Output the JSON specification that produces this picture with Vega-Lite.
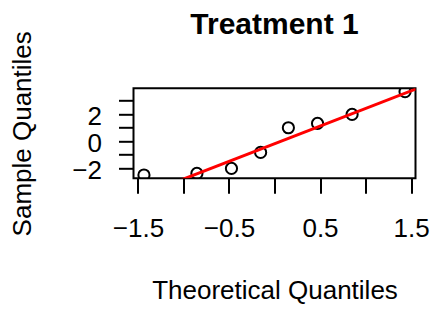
{
  "$schema": "https://vega.github.io/schema/vega-lite/v6.json",
  "width": 282,
  "height": 90,
  "autosize": "none",
  "padding": {"left": 133.5, "top": 88.3, "right": 19.5, "bottom": 130.7},
  "background": "white",
  "title": {"text": "Treatment 1", "font": "Liberation Sans", "fontSize": 30, "fontWeight": "bold", "color": "black", "anchor": "middle", "frame": "group", "baseline": "alphabetic", "offset": -33.3},
  "config": {
    "view": {"stroke": "black", "strokeWidth": 2},
    "axis": {"domain": false, "grid": false, "ticks": true, "tickColor": "black", "tickWidth": 2, "tickSize": 15,
      "labelFont": "Liberation Sans", "labelFontSize": 26, "labelColor": "black",
      "titleFont": "Liberation Sans", "titleFontSize": 26, "titleFontWeight": "normal", "titleColor": "black"}
  },
  "datasets": {
    "pts": [
      {"x": -1.4342, "y": -2.52},
      {"x": -0.8524, "y": -2.40},
      {"x": -0.4728, "y": -2.03},
      {"x": -0.1525, "y": -0.84},
      {"x": 0.1525, "y": 0.99},
      {"x": 0.4728, "y": 1.31},
      {"x": 0.8524, "y": 1.98},
      {"x": 1.4342, "y": 3.67}
    ],
    "qqline": [
      {"x": -1.6, "y": -4.39},
      {"x": 1.6, "y": 3.987}
    ]
  },
  "encoding": {
    "x": {"field": "x", "type": "quantitative",
      "scale": {"domain": [-1.549, 1.549], "nice": false, "zero": false},
      "axis": {"title": "Theoretical Quantiles", "values": [-1.5, -1, -0.5, 0, 0.5, 1, 1.5], "format": ".1f",
        "labelExpr": "abs(datum.value) == 0.5 || abs(datum.value) == 1.5 ? datum.label : ''",
        "labelBaseline": "alphabetic", "labelPadding": 43, "labelFlush": false, "labelOverlap": false,
        "titleBaseline": "alphabetic", "titleY": 119.7}},
    "y": {"field": "y", "type": "quantitative",
      "scale": {"domain": [-2.765, 3.921], "nice": false, "zero": false},
      "axis": {"title": "Sample Quantiles", "values": [-2, -1, 0, 1, 2, 3], "format": "d",
        "labelExpr": "datum.value % 2 == 0 ? datum.label : ''",
        "labelBaseline": "middle", "labelOffset": 2, "labelPadding": 17, "labelFlush": false, "labelOverlap": false,
        "titleAngle": 270, "titleBaseline": "alphabetic", "titleAlign": "center", "titleX": -103.5, "titleY": 45}}
  },
  "layer": [
    {"data": {"name": "pts"},
     "mark": {"type": "point", "shape": "circle", "filled": false, "color": "black", "strokeWidth": 2, "size": 125, "opacity": 1, "clip": true}},
    {"data": {"name": "qqline"},
     "mark": {"type": "line", "color": "red", "strokeWidth": 3, "clip": true}}
  ]
}
